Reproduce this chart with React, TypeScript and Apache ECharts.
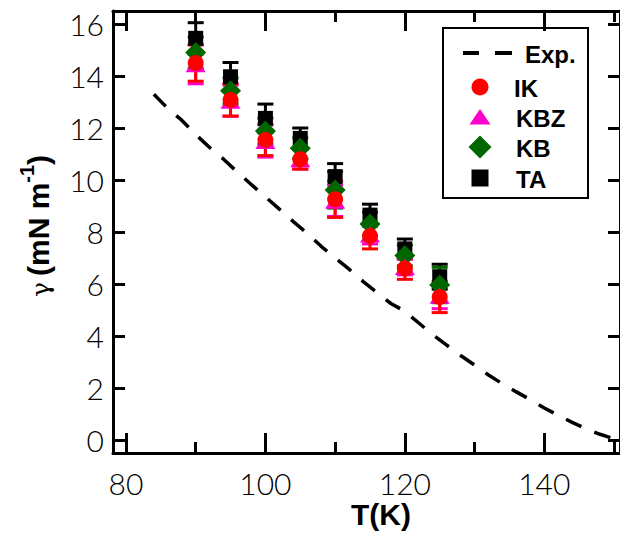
import React, { useEffect, useRef } from "react";
import * as echarts from "echarts";

const temps = [90, 95, 100, 105, 110, 115, 120, 125];

const taVal = [15.45, 13.97, 12.37, 11.6, 10.13, 8.65, 7.35, 6.28];
const taErr = [0.6, 0.55, 0.55, 0.4, 0.5, 0.42, 0.38, 0.48];
const kbVal = [14.9, 13.43, 11.88, 11.22, 9.62, 8.31, 7.1, 5.96];
const kbErr = [0.6, 0.5, 0.5, 0.4, 0.7, 0.45, 0.4, 0.68];
const kbzVal = [14.45, 13.05, 11.5, 10.8, 9.2, 7.9, 6.65, 5.55];
const kbzErr = [0.75, 0.6, 0.62, 0.38, 0.6, 0.36, 0.3, 0.5];
const ikVal = [14.5, 13.08, 11.54, 10.8, 9.26, 7.85, 6.6, 5.5];
const ikErr = [0.7, 0.62, 0.6, 0.38, 0.7, 0.5, 0.42, 0.6];

const expT = [84, 86, 88, 90, 92, 94, 96, 98, 100, 102, 104, 106, 108, 110, 112, 114, 116, 118, 120, 122, 124, 126, 128, 130, 132, 134, 136, 138, 140, 142, 144, 146, 148, 150, 150.6];
const expG = [13.3, 12.75, 12.3, 11.75, 11.25, 10.8, 10.3, 9.82, 9.35, 8.88, 8.4, 7.95, 7.45, 7.0, 6.57, 6.1, 5.67, 5.25, 4.95, 4.5, 4.05, 3.65, 3.25, 2.88, 2.5, 2.16, 1.85, 1.55, 1.23, 0.95, 0.68, 0.43, 0.22, 0.05, 0];

const xMajor = [80, 100, 120, 140];
const xMinor = [90, 110, 130, 150];
const yTicks = [0, 2, 4, 6, 8, 10, 12, 14, 16];

const legendNames = ["Exp.", "IK", "KBZ", "KB", "TA"];

const X_MIN = 78.14;
const X_MAX = 150.86;
const Y_MIN = -0.5;
const Y_MAX = 16.5;

const COL_TA = "#000000";
const COL_KB = "#006600";
const COL_KBZ = "#ff00cc";
const COL_IK = "#ff0000";

const labelFont = { fontFamily: "Lato", fontWeight: 300, fontSize: 30, color: "#000" };

function errSeries(name: string, vals: number[], errs: number[], color: string) {
  return {
    name: name + " err",
    type: "custom",
    xAxisIndex: 0,
    yAxisIndex: 0,
    silent: true,
    data: temps.map((t, i) => [t, vals[i], errs[i]]),
    encode: { x: 0, y: 1 },
    renderItem: (params: any, api: any) => {
      const x = api.value(0);
      const y = api.value(1);
      const e = api.value(2);
      const top = api.coord([x, y + e]);
      const bot = api.coord([x, y - e]);
      const hw = 8;
      const st = { stroke: color, lineWidth: 3 };
      return {
        type: "group",
        children: [
          { type: "line", shape: { x1: top[0], y1: top[1], x2: bot[0], y2: bot[1] }, style: st },
          { type: "line", shape: { x1: top[0] - hw, y1: top[1], x2: top[0] + hw, y2: top[1] }, style: st },
          { type: "line", shape: { x1: bot[0] - hw, y1: bot[1], x2: bot[0] + hw, y2: bot[1] }, style: st },
        ],
      };
    },
  };
}

function scatterSeries(name: string, vals: number[], color: string, symbol: string, size: any) {
  return {
    name,
    type: "scatter",
    xAxisIndex: 0,
    yAxisIndex: 0,
    symbol,
    symbolSize: size,
    itemStyle: { color, opacity: 1 },
    data: temps.map((t, i) => [t, vals[i]]),
  };
}

function xAxisDef(position: string, ticks: number[], len: number, showLine: boolean, showLabel: boolean) {
  return {
    type: "value",
    position,
    min: X_MIN,
    max: X_MAX,
    axisLine: { show: showLine, onZero: false, lineStyle: { color: "#000", width: 3 } },
    axisTick: { show: true, inside: true, length: len, customValues: ticks, lineStyle: { color: "#000", width: 3 } },
    axisLabel: showLabel
      ? { show: true, customValues: ticks, margin: 15, ...labelFont }
      : { show: false },
    splitLine: { show: false },
  };
}

function yAxisDef(position: string, showLabel: boolean) {
  return {
    type: "value",
    position,
    min: Y_MIN,
    max: Y_MAX,
    axisLine: { show: true, onZero: false, lineStyle: { color: "#000", width: 3 } },
    axisTick: { show: true, inside: true, length: 12, customValues: yTicks, lineStyle: { color: "#000", width: 3 } },
    axisLabel: showLabel
      ? { show: true, customValues: yTicks, margin: 9, ...labelFont }
      : { show: false },
    splitLine: { show: false },
  };
}

const legendTextStyle = {
  fontFamily: "Liberation Sans",
  fontWeight: "bold",
  fontSize: 24,
  fill: "#000",
  verticalAlign: "middle",
  align: "left",
};

function legendGraphics() {
  const rows = [53, 87, 117, 147, 178];
  const cx = 480;
  const items: any[] = [
    {
      type: "rect",
      shape: { x: 443, y: 28, width: 145, height: 170 },
      style: { fill: "#fff", stroke: "#000", lineWidth: 2 },
    },
    { type: "line", shape: { x1: 463, y1: rows[0], x2: 479, y2: rows[0] }, style: { stroke: "#000", lineWidth: 4 } },
    { type: "line", shape: { x1: 495, y1: rows[0], x2: 512, y2: rows[0] }, style: { stroke: "#000", lineWidth: 4 } },
    { type: "circle", shape: { cx, cy: rows[1], r: 8.5 }, style: { fill: COL_IK } },
    {
      type: "polygon",
      shape: { points: [[cx - 10.5, rows[2] + 7.5], [cx + 10.5, rows[2] + 7.5], [cx, rows[2] - 8]] },
      style: { fill: COL_KBZ },
    },
    {
      type: "polygon",
      shape: { points: [[cx - 11.5, rows[3]], [cx, rows[3] - 11.5], [cx + 11.5, rows[3]], [cx, rows[3] + 11.5]] },
      style: { fill: COL_KB },
    },
    { type: "rect", shape: { x: cx - 8.5, y: rows[4] - 8.5, width: 17, height: 17 }, style: { fill: COL_TA } },
  ];
  const textX = [525, 514, 516, 516, 516];
  legendNames.forEach((n, i) => {
    items.push({ type: "text", x: textX[i], y: rows[i] + 1, style: { ...legendTextStyle, text: n } });
  });
  return items;
}

export default function App() {
  const ref = useRef<HTMLDivElement>(null);
  useEffect(() => {
    if (!ref.current) return;
    const chart = echarts.init(ref.current, null, { renderer: "svg" });
    const option: any = {
      animation: false,
      backgroundColor: "#fff",
      grid: { left: 113, right: -2, top: 11, bottom: 80, containLabel: false },
      xAxis: [
        xAxisDef("bottom", xMajor, 20, true, true),
        xAxisDef("bottom", xMinor, 11, false, false),
        xAxisDef("top", xMajor, 20, true, false),
        xAxisDef("top", xMinor, 11, false, false),
      ],
      yAxis: [yAxisDef("left", true), yAxisDef("right", false)],
      graphic: [
        ...legendGraphics(),
        {
          type: "text",
          x: 381,
          y: 499,
          style: {
            text: "T(K)",
            fontFamily: "Liberation Sans",
            fontWeight: "bold",
            fontSize: 30,
            fill: "#000",
            align: "center",
            verticalAlign: "top",
          },
        },
        {
          type: "text",
          x: 53,
          y: 226,
          rotation: Math.PI / 2,
          style: {
            text: "{g|γ}{sp| }{b|(mN m}{s|-1}{b|)}",
            align: "center",
            verticalAlign: "bottom",
            fill: "#000",
            rich: {
              g: { fontFamily: "DejaVu Serif", fontSize: 25, lineHeight: 36, verticalAlign: "bottom", fill: "#000" },
              sp: { fontFamily: "Liberation Sans", fontSize: 22, lineHeight: 36, verticalAlign: "bottom", fill: "#000" },
              b: { fontFamily: "Liberation Sans", fontWeight: "bold", fontSize: 30, lineHeight: 36, verticalAlign: "bottom", fill: "#000" },
              s: { fontFamily: "Liberation Sans", fontWeight: "bold", fontSize: 20, lineHeight: 20, verticalAlign: "top", fill: "#000" },
            },
          },
        },
      ],
      series: [
        {
          name: "Exp.",
          type: "line",
          xAxisIndex: 0,
          yAxisIndex: 0,
          showSymbol: false,
          symbol: "none",
          lineStyle: { color: "#000", width: 3.5, type: [17, 14] },
          itemStyle: { color: "#000" },
          data: expT.map((t, i) => [t, expG[i]]),
        },
        errSeries("TA", taVal, taErr, COL_TA),
        scatterSeries("TA", taVal, COL_TA, "rect", 15),
        errSeries("KB", kbVal, kbErr, COL_KB),
        scatterSeries("KB", kbVal, COL_KB, "diamond", 21),
        errSeries("KBZ", kbzVal, kbzErr, COL_KBZ),
        scatterSeries("KBZ", kbzVal, COL_KBZ, "triangle", [20, 16]),
        errSeries("IK", ikVal, ikErr, COL_IK),
        scatterSeries("IK", ikVal, COL_IK, "circle", 16),
      ],
    };
    chart.setOption(option);
    return () => chart.dispose();
  }, []);
  return (
    <div
      ref={ref}
      style={{ position: "absolute", left: 0, top: 0, width: 620, height: 533 }}
    />
  );
}
